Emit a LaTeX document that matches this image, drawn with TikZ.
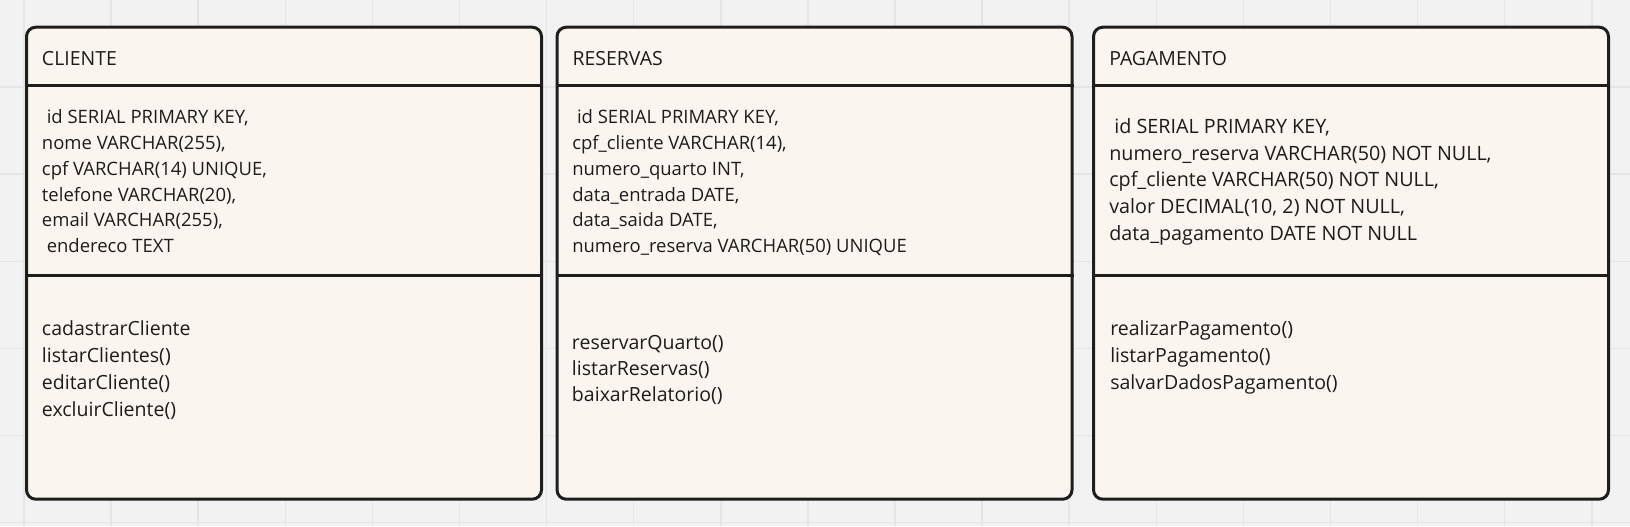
\documentclass[tikz,border=0pt]{standalone}
\usepackage{fontspec}
\setmainfont{Open Sans}
\definecolor{bgc}{HTML}{F2F2F2}
\definecolor{gridc}{HTML}{E5E5E5}
\definecolor{cardc}{HTML}{FAF6EF}
\definecolor{ink}{HTML}{1E1E1E}
\definecolor{txt}{HTML}{1C1C1C}
\begin{document}
\begin{tikzpicture}[x=0.75pt,y=-0.75pt,
  gridline/.style={draw=gridc, line width=1.1pt},
  card/.style={draw=ink, fill=cardc, line width=2.25pt, rounded corners=7pt,
    minimum width=386.25pt, minimum height=354pt, anchor=north west, inner sep=0pt},
  divider/.style={draw=ink, line width=2.25pt},
  titletext/.style={anchor=base west, inner sep=0pt, text=txt, font=\fontsize{14.6}{17}\selectfont},
  fieldtext/.style={anchor=base west, inner sep=0pt, text=txt, font=\fontsize{13.85}{16}\selectfont},
  bigfieldtext/.style={anchor=base west, inner sep=0pt, text=txt, font=\fontsize{14.8}{17}\selectfont},
  methodtext/.style={anchor=base west, inner sep=0pt, text=txt, font=\fontsize{14.65}{17}\selectfont}]
\fill[bgc] (0,0) rectangle (1630,526);
\useasboundingbox (0,0) rectangle (1630,526);
\foreach \k in {0,...,18} \draw[gridline] ({24+87.1*\k},0) -- ({24+87.1*\k},526);
\foreach \k in {1,...,6} \draw[gridline] (0,{87.1*\k}) -- (1630,{87.1*\k});

% cards
\node[card] (cli) at (25,25.7) {};
\node[card] (res) at (555.5,25.7) {};
\node[card] (pag) at (1092,25.7) {};
\foreach \c in {cli,res,pag}{
  \draw[divider] (\c.west |- 0,85.3) -- (\c.east |- 0,85.3);
  \draw[divider] (\c.west |- 0,275) -- (\c.east |- 0,275);
}

% titles
\node[titletext] (clit) at (41.7,65.7) {CLIENTE};
\node[titletext] (rest) at (572.3,65.7) {RESERVAS};
\node[titletext] (pagt) at (1109,65.7) {PAGAMENTO};

% CLIENTE fields
\foreach \t [count=\i] in {{\ id SERIAL PRIMARY KEY,},{nome VARCHAR(255),},{cpf VARCHAR(14) UNIQUE,},{telefone VARCHAR(20),},{email VARCHAR(255),},{\ endereco TEXT}}
  \node[fieldtext] (clif\i) at (41.7,{123.3+25.9*(\i-1)}) {\t};
% RESERVAS fields
\foreach \t [count=\i] in {{\ id SERIAL PRIMARY KEY,},{cpf\_cliente VARCHAR(14),},{numero\_quarto INT,},{data\_entrada DATE,},{data\_saida DATE,},{numero\_reserva VARCHAR(50) UNIQUE}}
  \node[fieldtext] (resf\i) at (572,{123.3+25.9*(\i-1)}) {\t};
% PAGAMENTO fields
\foreach \t [count=\i] in {{\ id SERIAL PRIMARY KEY,},{numero\_reserva VARCHAR(50) NOT NULL,},{cpf\_cliente VARCHAR(50) NOT NULL,},{valor DECIMAL(10, 2) NOT NULL,},{data\_pagamento DATE NOT NULL}}
  \node[bigfieldtext] (pagf\i) at (1109,{133.3+26.7*(\i-1)}) {\t};

% methods
\foreach \t [count=\i] in {cadastrarCliente,listarClientes(),editarCliente(),excluirCliente()}
  \node[methodtext] (clim\i) at (41.7,{335.7+27*(\i-1)}) {\t};
\foreach \t [count=\i] in {reservarQuarto(),listarReservas(),baixarRelatorio()}
  \node[methodtext] (resm\i) at (571.7,{349.3+26.2*(\i-1)}) {\t};
\foreach \t [count=\i] in {realizarPagamento(),listarPagamento(),salvarDadosPagamento()}
  \node[methodtext] (pagm\i) at (1110,{335.5+27*(\i-1)}) {\t};
\end{tikzpicture}
\end{document}
